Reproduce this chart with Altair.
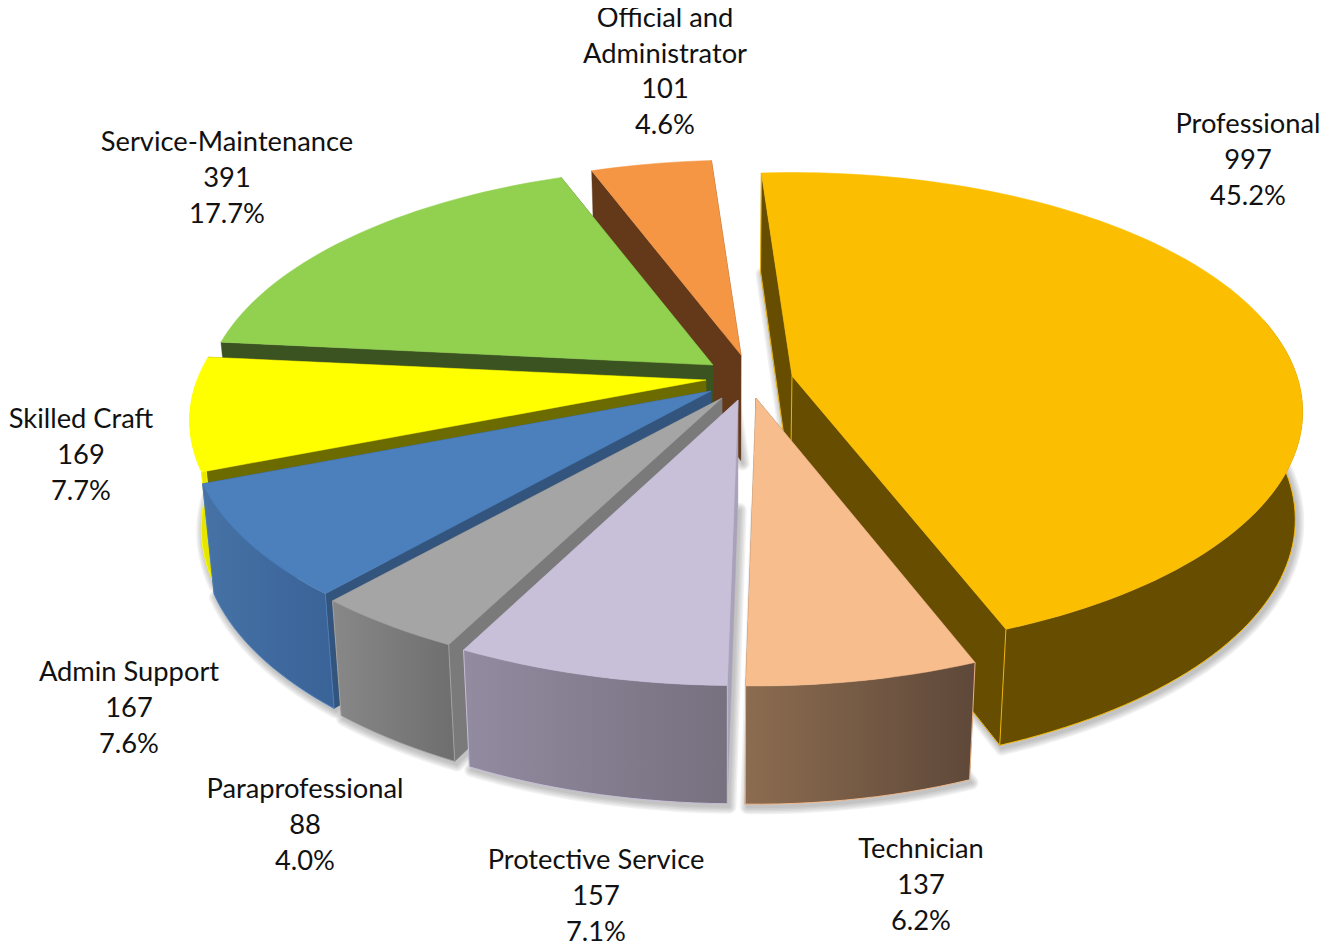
import math
import altair as alt
import pandas as pd

categories = ["Professional", "Technician", "Protective Service", "Paraprofessional",
              "Admin Support", "Skilled Craft", "Service-Maintenance", "Official and\nAdministrator"]
values = [997, 137, 157, 88, 167, 169, 391, 101]
percent_labels = ["45.2%", "6.2%", "7.1%", "4.0%", "7.6%", "7.7%", "17.7%", "4.6%"]

top_colors = ["#FCBE00", "#F8BD8D", "#C8BFD9", "#A5A5A5", "#4C80BC", "#FFFF00", "#92D050", "#F59645"]
cut_colors = ["#664D00", "#6B5140", "#A9A2B9", "#7A7A7A", "#32547D", "#6B6B00", "#3B5320", "#64391A"]
wall_from = ["#664D00", "#8C6C50", "#938BA0", "#888888", "#4672A6", "#E6E600", "#3B5320", "#64391A"]
wall_to = ["#664D00", "#5E4839", "#76707F", "#6E6E6E", "#3A6398", "#E6E600", "#3B5320", "#64391A"]

# Pseudo-3D geometry of the exploded pie (one entry per slice)
START_DEG = -4.0
CX = 725.0
apex_at = [(792, 376), (756, 398), (738, 400), (722, 398), (711, 391), (706, 380), (713, 365), (741, 355)]
radius_x = [505, 506, 520, 518, 513, 509, 503, 495]
radius_y = [234, 239, 237, 234, 234, 232, 232, 228]
persp = [0.15, 0.17, 0.17, 0.17, 0.17, 0.17, 0.17, 0.17]
front_limit = [0.25, 0, 0, 0, 0, 0, 0, 0]
label_anchor = [(1248, 161), (921, 886), (596, 897), (305, 826), (129, 709), (81, 456), (227, 179), (665, 72.5)]
line_gap = [36, 36, 36, 36, 36, 36, 36, 35.5]
draw_order = [7, 6, 5, 4, 3, 2, 0, 1]

W, H = 1313, 936
total = sum(values)
XS = alt.X("x:Q", scale=alt.Scale(domain=[8, 8 + W], nice=False, zero=False), axis=None)
YS = alt.Y("y:Q", scale=alt.Scale(domain=[8 + H, 8], nice=False, zero=False), axis=None)


def rim(k, deg):
    t = math.radians(deg)
    x, y = math.sin(t), math.cos(t)
    s = 1 / (1 + persp[k] * y)
    return apex_at[k][0] + radius_x[k] * x * s, apex_at[k][1] - radius_y[k] * y * s


def drop(p):
    shift = (CX - p[0]) * 0.022
    return p[0] + max(shift, -7.5), p[1] + 91.5 + 0.039 * p[1]


def frame(points):
    return pd.DataFrame({"x": [p[0] for p in points], "y": [p[1] for p in points],
                         "i": range(len(points))})


def polygon(points, fill, stroke, sw=0.8, opacity=1.0):
    return alt.Chart(frame(points)).mark_line(
        interpolate="linear-closed", fill=fill, stroke=stroke,
        strokeWidth=sw, opacity=opacity, clip=False, strokeJoin="round"
    ).encode(x=XS, y=YS, order="i:Q")


def outline(points, stroke, sw=0.9):
    return alt.Chart(frame(points)).mark_line(
        stroke=stroke, strokeWidth=sw, clip=False, strokeJoin="round"
    ).encode(x=XS, y=YS, order="i:Q")


angles = []
a = START_DEG
for v in values:
    angles.append((a, a + v / total * 360))
    a += v / total * 360

shadows = []
layers = []
for k in draw_order:
    start, end = angles[k]
    apex = apex_at[k]
    n = max(4, int((end - start) / 1.5))
    degs = [start + (end - start) * j / n for j in range(n + 1)]
    arc = [rim(k, d) for d in degs]
    low = [drop(p) for p in arc]
    apex_low = drop(apex)
    edge = top_colors[k]
    for sw in (14, 11, 8, 5, 2):
        shade = [(p[0] + 2, p[1] + 3) for p in [apex_low] + low]
        shadows.append(polygon(shade, "#555555", "#555555", sw=sw, opacity=0.075))
    layers.append(polygon([apex, arc[0], low[0], apex_low], cut_colors[k], cut_colors[k], sw=0.4))
    layers.append(polygon([apex, arc[-1], low[-1], apex_low], cut_colors[k], cut_colors[k], sw=0.4))
    if k == 0:
        layers.append(outline([apex, apex_low, low[0], arc[0]], edge))
        layers.append(outline([apex_low, low[-1]], edge))
    grad = alt.Gradient(gradient="linear", x1=0, x2=1, y1=0, y2=0,
                        stops=[alt.GradientStop(color=wall_from[k], offset=0),
                               alt.GradientStop(color=wall_to[k], offset=1)])
    front = [j for j, d in enumerate(degs) if math.cos(math.radians(d)) < front_limit[k]]
    if front:
        arc_f = [arc[j] for j in front]
        low_f = [low[j] for j in front]
        layers.append(polygon(arc_f + low_f[::-1], grad, "transparent", sw=0))
        layers.append(outline([arc_f[0]] + low_f + [arc_f[-1]], edge))
    layers.append(polygon([apex] + arc, top_colors[k], top_colors[k], sw=0.5))

text_rows = []
for k, c in enumerate(categories):
    lines = c.split("\n") + [str(values[k]), percent_labels[k]]
    m = len(lines)
    for j, line in enumerate(lines):
        text_rows.append({"x": label_anchor[k][0],
                          "y": label_anchor[k][1] + (j - (m - 1) / 2) * line_gap[k], "t": line})
text = alt.Chart(pd.DataFrame(text_rows)).mark_text(
    font="Lato", fontSize=27.3, color="#111111", align="center", baseline="middle"
).encode(x=XS, y=YS, text="t:N")

chart = alt.layer(*shadows, *layers, text).properties(
    width=W, height=H, padding=0, autosize=alt.AutoSizeParams(type="none")
).configure_view(stroke=None)
chart.save("out.html", embed_options={"renderer": "svg", "actions": False})
